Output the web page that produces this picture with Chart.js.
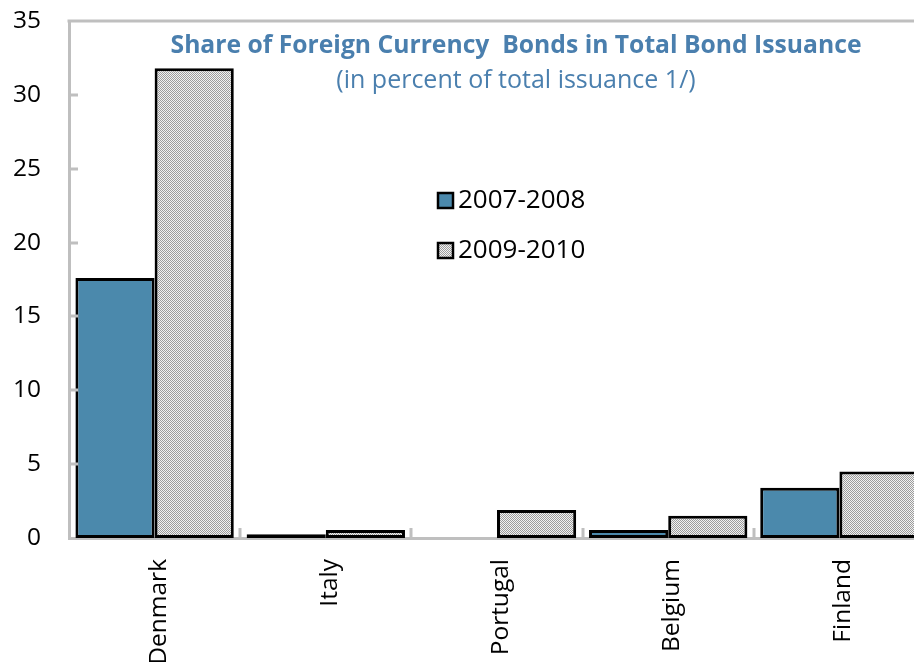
<!DOCTYPE html>
<html>
<head>
<meta charset="utf-8">
<script src="https://cdn.jsdelivr.net/npm/chart.js@4.4.0/dist/chart.umd.min.js"></script>
<style>
	html, body { margin: 0; padding: 0; background: #fff; overflow: hidden; }
	#wrap { position: relative; width: 926px; height: 662px; }
</style>
</head>
<body>
<div id="wrap"><canvas id="myChart"></canvas></div>
<script>
'use strict';

// *** Data ***
const aryCountries = ['Denmark', 'Italy', 'Portugal', 'Belgium', 'Finland'];
const aryShare0708 = [17.6, 0.25, 0, 0.55, 3.4];
const aryShare0910 = [31.8, 0.55, 1.9, 1.5, 4.5];
const aryYTicks = [0, 5, 10, 15, 20, 25, 30, 35];
const strTitle = 'Share of Foreign Currency  Bonds in Total Bond Issuance';
const strSubTitle = '(in percent of total issuance 1/)';

const FONT = '"Open Sans", "Noto Sans", sans-serif';
const AXIS_GREY = '#bfbfbf';
const TITLE_BLUE = '#4a7fae';

// fine dotted fill used by the second series
function makeDotPattern() {
	const c = document.createElement('canvas');
	c.width = 2;
	c.height = 2;
	const g = c.getContext('2d');
	g.fillStyle = '#f2f2f2';
	g.fillRect(0, 0, 2, 2);
	g.fillStyle = '#9c9c9c';
	g.fillRect(0, 0, 1, 1);
	g.fillRect(1, 1, 1, 1);
	return g.createPattern(c, 'repeat');
}

function prepareDataSets() {
	const dotted = makeDotPattern();
	return [{
		label: '2007-2008',
		backgroundColor: '#4b89ac',
		borderColor: '#000',
		borderWidth: 3,
		borderSkipped: false,
		data: aryShare0708,
	}, {
		label: '2009-2010',
		backgroundColor: dotted,
		borderColor: '#000',
		borderWidth: 3,
		borderSkipped: false,
		data: aryShare0910,
	}];
}

// title, legend, inward tick marks and the top frame line
const decorPlugin = {
	id: 'decor',
	afterDatasetsDraw(chart) {
		const ctx = chart.ctx;
		const area = chart.chartArea;
		const xs = chart.scales.x;
		const ys = chart.scales.y;
		ctx.save();

		// frame top
		ctx.strokeStyle = AXIS_GREY;
		ctx.lineWidth = 3;
		ctx.beginPath();
		ctx.moveTo(area.left - 1.5, area.top);
		ctx.lineTo(area.right, area.top);
		ctx.stroke();

		// y ticks pointing inward
		aryYTicks.slice(1, -1).forEach((v) => {
			const y = Math.round(ys.getPixelForValue(v));
			ctx.beginPath();
			ctx.moveTo(area.left, y);
			ctx.lineTo(area.left + 9, y);
			ctx.stroke();
		});

		// x ticks between categories, pointing up
		for (let i = 1; i < aryCountries.length; i++) {
			const x = Math.round((xs.getPixelForTick(i - 1) + xs.getPixelForTick(i)) / 2);
			ctx.beginPath();
			ctx.moveTo(x, area.bottom);
			ctx.lineTo(x, area.bottom - 10);
			ctx.stroke();
		}

		// titles
		ctx.fillStyle = TITLE_BLUE;
		ctx.textAlign = 'center';
		ctx.textBaseline = 'middle';
		ctx.font = 'bold 24.7px ' + FONT;
		ctx.fillText(strTitle, 516, 46);
		ctx.font = '25px ' + FONT;
		ctx.fillText(strSubTitle, 516, 81);

		// legend
		ctx.textAlign = 'left';
		ctx.font = '26px ' + FONT;
		chart.data.datasets.forEach((ds, i) => {
			const cy = 200 + i * 50;
			ctx.fillStyle = ds.backgroundColor;
			ctx.fillRect(438, cy - 7, 15, 15);
			ctx.strokeStyle = '#000';
			ctx.lineWidth = 2.5;
			ctx.strokeRect(438, cy - 7, 15, 15);
			ctx.fillStyle = '#000';
			ctx.fillText(ds.label, 458, cy + 1);
		});
		ctx.restore();
	},
};

function prepareOptions() {
	return {
		responsive: true,
		maintainAspectRatio: false,
		animation: false,
		layout: { padding: { top: 21, right: 1, left: 0, bottom: 0 } },
		plugins: {
			legend: { display: false },
			title: { display: false },
			tooltip: { enabled: false },
		},
		datasets: {
			bar: { categoryPercentage: 0.925, barPercentage: 1 },
		},
		scales: {
			x: {
				z: 1,
				grid: { display: false, drawTicks: false },
				border: { display: true, color: AXIS_GREY, width: 3 },
				ticks: {
					color: '#000',
					font: { family: FONT, size: 24.5 },
					minRotation: 90,
					maxRotation: 90,
					padding: 21,
					labelOffset: 4,
				},
				afterFit(scale) {
					scale.height = 124;
					scale.paddingLeft = 0;
					scale.paddingRight = 0;
				},
			},
			y: {
				min: 0,
				max: 35,
				afterBuildTicks(scale) { scale.ticks = aryYTicks.map((v) => ({ value: v })); },
				grid: { display: false, drawTicks: false },
				border: { display: true, color: AXIS_GREY, width: 3 },
				ticks: {
					color: '#000',
					font: { family: FONT, size: 24.5 },
					padding: 28,
				},
				afterFit(scale) {
					scale.width = 69;
					scale.paddingTop = 0;
					scale.paddingBottom = 0;
				},
			},
		},
	};
}

function chartIt() {
	const config = {
		type: 'bar',
		data: {
			labels: aryCountries,
			datasets: prepareDataSets(),
		},
		options: prepareOptions(),
		plugins: [decorPlugin],
	};
	return new Chart(document.getElementById('myChart'), config);
}

// *** Entry Point ***
const myChart = chartIt();
</script>
</body>
</html>
